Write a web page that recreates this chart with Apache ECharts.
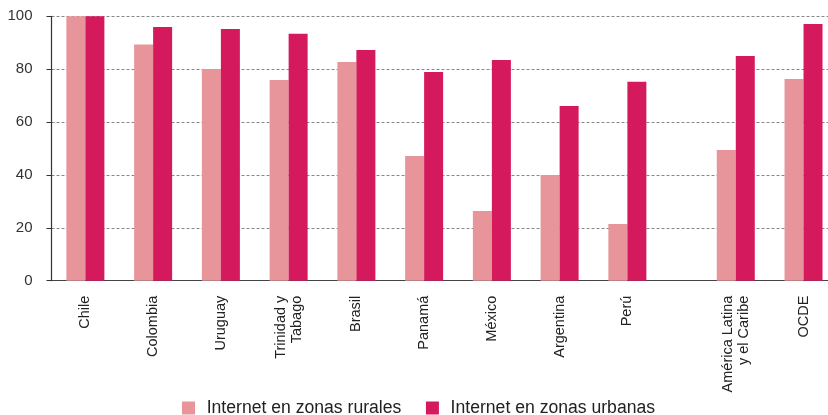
<!DOCTYPE html>
<html lang="es">
<head>
    <meta charset="UTF-8">
    <title>Internet en zonas rurales y urbanas</title>
    <script src="https://cdn.jsdelivr.net/npm/echarts@6/dist/echarts.min.js"></script>
    <style>
        body { margin: 0; background: #fff; }
    </style>
</head>
<body>
    <div id="chart" style="width: 828px; height: 415px;"></div>
    <script>
        const paises = ['Chile', 'Colombia', 'Uruguay', 'Trinidad y\nTabago', 'Brasil', 'Panamá',
            'México', 'Argentina', 'Perú', 'América Latina\ny el Caribe', 'OCDE'];
        const rurales = [100, 89.3, 80.1, 75.9, 82.7, 47.2, 26.4, 40.0, 21.4, 49.4, 76.3];
        const urbanas = [100, 96.0, 95.2, 93.4, 87.3, 78.9, 83.5, 66.1, 75.2, 85.0, 97.1];
        const yTicks = [0, 20, 40, 60, 80, 100];

        // el eje x se divide en ranuras finas para dejar el hueco antes de América Latina
        const SLOTS = 5;          // ranuras por país
        const GAP_AFTER = 8;      // índice de Perú
        const GAP = 3;            // ranuras del hueco
        const TOTAL = paises.length * SLOTS + GAP;

        const start = i => i * SLOTS + (i > GAP_AFTER ? GAP : 0);
        const centre = i => start(i) + Math.floor(SLOTS / 2);

        const cats = new Array(TOTAL).fill('');
        const dataR = new Array(TOTAL).fill(null);
        const dataU = new Array(TOTAL).fill(null);
        paises.forEach((p, i) => {
            cats[centre(i)] = p;
            dataR[centre(i)] = rurales[i];
            dataU[centre(i)] = urbanas[i];
        });

        const tickAt = new Set();
        paises.forEach((p, i) => { if (i !== GAP_AFTER + 1) tickAt.add(start(i)); });
        tickAt.add(start(GAP_AFTER) + SLOTS);

        const chart = echarts.init(document.getElementById('chart'));
        const font = '"Liberation Sans", Arial, sans-serif';

        chart.setOption({
            animation: false,
            textStyle: { fontFamily: font },
            grid: {
                left: 51.5, top: 16.3, width: 13.55 * TOTAL, height: 264.4,
                outerBoundsMode: 'none'
            },
            legend: {
                left: 182,
                top: 399,
                padding: 0,
                itemWidth: 13,
                itemHeight: 13,
                itemGap: 24.6,
                icon: 'rect',
                textStyle: {
                    fontSize: 17.6, lineHeight: 18, color: '#222', fontFamily: font,
                    padding: [0, 0, 0, 6.7]
                },
                data: ['Internet en zonas rurales', 'Internet en zonas urbanas']
            },
            xAxis: {
                type: 'category',
                data: cats,
                axisLine: { lineStyle: { color: '#444', width: 1 } },
                axisTick: {
                    length: 5,
                    lineStyle: { color: '#444' },
                    interval: (idx) => tickAt.has(idx)
                },
                axisLabel: {
                    interval: 0,
                    rotate: 90,
                    margin: 15,
                    fontSize: 14.5,
                    lineHeight: 16,
                    color: '#222',
                    fontFamily: font
                },
                splitLine: { show: false }
            },
            yAxis: {
                type: 'value',
                min: yTicks[0],
                max: yTicks[yTicks.length - 1],
                interval: yTicks[1] - yTicks[0],
                axisLine: { show: true, lineStyle: { color: '#333', width: 1.2 } },
                axisTick: { show: true, length: 5, lineStyle: { color: '#333' } },
                axisLabel: { fontSize: 15, color: '#333', margin: 19, fontFamily: font },
                splitLine: { lineStyle: { color: '#888', type: [3, 2], width: 1 } }
            },
            series: [
                {
                    name: 'Internet en zonas rurales',
                    type: 'bar',
                    data: dataR,
                    barWidth: 19,
                    barGap: '0%',
                    itemStyle: { color: '#E7949B' }
                },
                {
                    name: 'Internet en zonas urbanas',
                    type: 'bar',
                    data: dataU,
                    barWidth: 19,
                    barGap: '0%',
                    itemStyle: { color: '#D4195C' }
                }
            ]
        });
    </script>
</body>
</html>
